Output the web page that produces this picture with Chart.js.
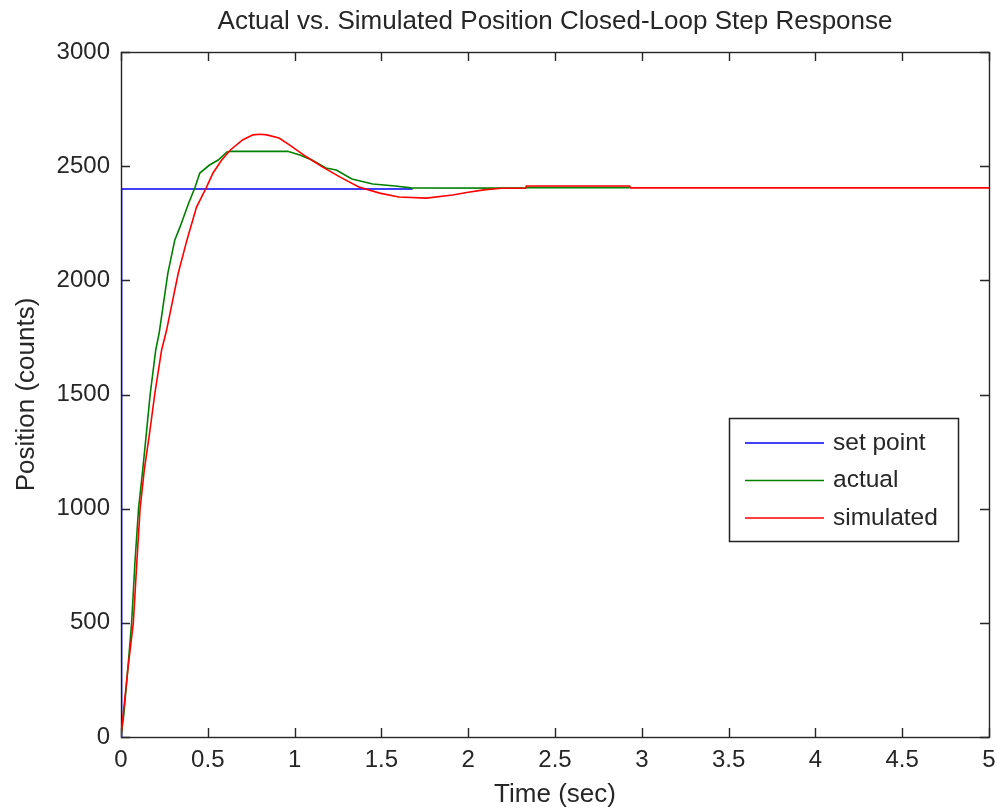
<!DOCTYPE html>
<html>
<head>
<meta charset="utf-8">
<title>Actual vs. Simulated Position Closed-Loop Step Response</title>
<script src="https://cdn.jsdelivr.net/npm/chart.js@4.4.1/dist/chart.umd.min.js"></script>
<style>
  html, body { margin: 0; padding: 0; background: #fff; }
  #wrap { width: 997px; height: 810px; }
</style>
</head>
<body>
<div id="wrap"><canvas id="stepChart" width="997" height="810"></canvas></div>
<script>
// set point
const setTime = [0, 0.003, 1.68];
const setPos = [0, 2400, 2400];

// measured response
const actualTime = [0, 0.017, 0.042, 0.061, 0.08, 0.101, 0.125, 0.148, 0.168, 0.2, 0.22, 0.27, 0.31, 0.34, 0.39, 0.425, 0.454, 0.51, 0.56, 0.61, 0.64, 0.96, 1.03, 1.1, 1.18, 1.24, 1.33, 1.45, 1.58, 1.67, 2.33, 2.335, 2.93];
const actualPos = [0, 104, 323, 498, 760, 1000, 1169, 1344, 1500, 1695, 1770, 2032, 2177, 2234, 2339, 2404, 2470, 2505, 2527, 2562, 2565, 2565, 2549, 2527, 2492, 2483, 2444, 2422, 2413, 2405, 2404, 2406, 2406];

// model response
const simTime = [0, 0.01, 0.04, 0.071, 0.09, 0.11, 0.134, 0.167, 0.195, 0.234, 0.262, 0.33, 0.38, 0.435, 0.49, 0.53, 0.58, 0.63, 0.7, 0.76, 0.8, 0.84, 0.91, 0.97, 1.07, 1.16, 1.26, 1.37, 1.49, 1.6, 1.76, 1.91, 2.0, 2.09, 2.19, 2.33, 2.335, 2.93, 2.935, 5];
const simPos = [0, 80, 300, 500, 750, 1000, 1169, 1344, 1505, 1695, 1780, 2032, 2177, 2321, 2404, 2470, 2527, 2571, 2615, 2637, 2640, 2637, 2623, 2593, 2540, 2497, 2453, 2409, 2382, 2365, 2360, 2374, 2386, 2396, 2403, 2404, 2413, 2413, 2405, 2405];

const xTickLabels = ['0', '0.5', '1', '1.5', '2', '2.5', '3', '3.5', '4', '4.5', '5'];
const yTickLabels = ['0', '500', '1000', '1500', '2000', '2500', '3000'];

const titleText = 'Actual vs. Simulated Position Closed-Loop Step Response';
const fontFam = '"Liberation Sans", Arial, sans-serif';
const txtColor = '#262626';

function pts(xs, ys) {
  return xs.map((t, i) => ({ x: t, y: ys[i] }));
}

// MATLAB style box with inward ticks on all four sides, title centred on the axes
const boxAndTicks = {
  id: 'boxAndTicks',
  beforeDatasetsDraw(chart) {
    const { ctx, chartArea: a, scales: { x, y } } = chart;
    const len = 9;
    ctx.save();
    ctx.strokeStyle = txtColor;
    ctx.lineWidth = 1.4;
    ctx.beginPath();
    x.ticks.forEach(t => {
      const px = Math.round(x.getPixelForValue(t.value)) + 0.5;
      ctx.moveTo(px, a.bottom); ctx.lineTo(px, a.bottom - len);
      ctx.moveTo(px, a.top); ctx.lineTo(px, a.top + len);
    });
    y.ticks.forEach(t => {
      const py = Math.round(y.getPixelForValue(t.value)) + 0.5;
      ctx.moveTo(a.left, py); ctx.lineTo(a.left + len, py);
      ctx.moveTo(a.right, py); ctx.lineTo(a.right - len, py);
    });
    ctx.stroke();
    ctx.strokeRect(a.left + 0.5, a.top + 0.5, a.right - a.left, a.bottom - a.top);

    ctx.fillStyle = txtColor;
    ctx.font = '26px ' + fontFam;
    ctx.textAlign = 'center';
    ctx.textBaseline = 'middle';
    ctx.fillText(titleText, (a.left + a.right) / 2, 22);
    ctx.restore();
  }
};

// legend box inside the axes
const boxLegend = {
  id: 'boxLegend',
  afterDatasetsDraw(chart) {
    const { ctx } = chart;
    const bx = 729, by = 418, bw = 229, bh = 123;
    ctx.save();
    ctx.fillStyle = '#fff';
    ctx.fillRect(bx, by, bw, bh);
    ctx.strokeStyle = '#222';
    ctx.lineWidth = 1.5;
    ctx.strokeRect(bx + 0.5, by + 0.5, bw, bh);
    ctx.font = '24.5px ' + fontFam;
    ctx.textBaseline = 'middle';
    ctx.fillStyle = txtColor;
    chart.data.datasets.forEach((ds, i) => {
      const ry = by + 25 + i * 37.5;
      ctx.strokeStyle = ds.borderColor;
      ctx.lineWidth = 1.5;
      ctx.beginPath();
      ctx.moveTo(745, ry);
      ctx.lineTo(824, ry);
      ctx.stroke();
      ctx.fillText(ds.label, 833, ry);
    });
    ctx.restore();
  }
};

new Chart(document.getElementById('stepChart'), {
  type: 'scatter',
  data: {
    datasets: [
      {
        label: 'set point',
        data: pts(setTime, setPos),
        borderColor: '#0000ff',
        order: 3
      },
      {
        label: 'actual',
        data: pts(actualTime, actualPos),
        borderColor: '#008000',
        order: 2
      },
      {
        label: 'simulated',
        data: pts(simTime, simPos),
        borderColor: '#ff0000',
        order: 1
      }
    ]
  },
  options: {
    responsive: false,
    animation: false,
    showLine: true,
    layout: { padding: { left: 0, right: 8, top: 52, bottom: 0 } },
    elements: {
      point: { radius: 0, hoverRadius: 0 },
      line: { borderWidth: 1.6, tension: 0, fill: false }
    },
    plugins: {
      legend: { display: false },
      tooltip: { enabled: false },
      title: { display: false }
    },
    scales: {
      x: {
        type: 'linear',
        min: 0,
        max: 5,
        grid: { display: false },
        border: { display: false },
        afterFit(scale) {
          scale.height = 73;
          scale.paddingLeft = 0;
          scale.paddingRight = 0;
        },
        afterBuildTicks(scale) {
          scale.ticks = xTickLabels.map(s => ({ value: parseFloat(s) }));
        },
        ticks: {
          color: txtColor,
          padding: 1,
          maxRotation: 0,
          autoSkip: false,
          font: { family: fontFam, size: 24 },
          callback: (v) => xTickLabels.find(s => parseFloat(s) === v)
        },
        title: {
          display: true,
          text: 'Time (sec)',
          color: txtColor,
          font: { family: fontFam, size: 26, lineHeight: 1 },
          padding: { top: 0, bottom: 2 }
        }
      },
      y: {
        type: 'linear',
        min: 0,
        max: 3000,
        grid: { display: false },
        border: { display: false },
        afterFit(scale) {
          scale.width = 121;
          scale.paddingTop = 0;
          scale.paddingBottom = 0;
        },
        afterBuildTicks(scale) {
          scale.ticks = yTickLabels.map(s => ({ value: parseFloat(s) }));
        },
        ticks: {
          color: txtColor,
          padding: 3,
          autoSkip: false,
          font: { family: fontFam, size: 24 },
          callback: (v) => yTickLabels.find(s => parseFloat(s) === v)
        },
        title: {
          display: true,
          text: 'Position (counts)',
          color: txtColor,
          font: { family: fontFam, size: 26, lineHeight: 1 },
          padding: { top: 14, bottom: 0 }
        }
      }
    }
  },
  plugins: [boxAndTicks, boxLegend]
});
</script>
</body>
</html>
